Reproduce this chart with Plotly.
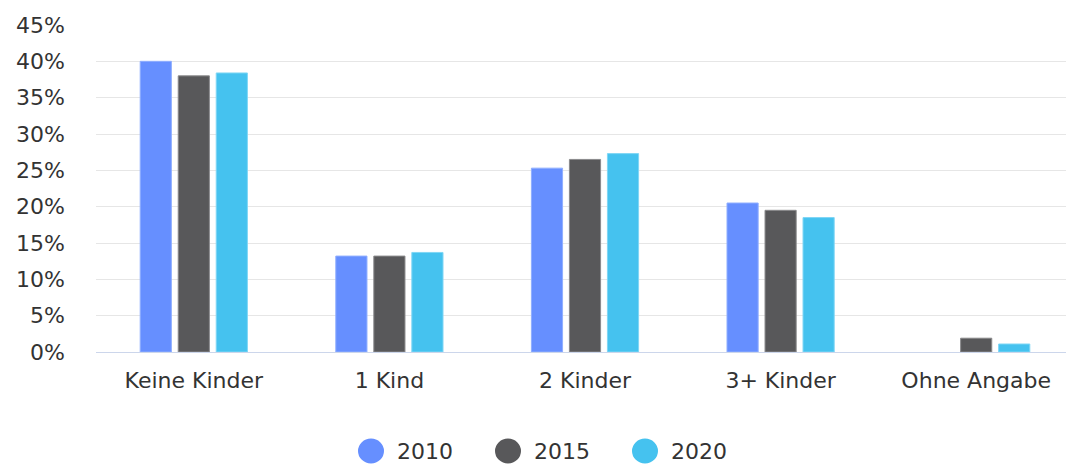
import plotly.graph_objects as go

categories = ["Keine Kinder", "1 Kind", "2 Kinder", "3+ Kinder", "Ohne Angabe"]
series_names = ["2010", "2015", "2020"]
values_2010 = [40.0, 13.2, 25.3, 20.5, None]
values_2015 = [38.0, 13.2, 26.5, 19.5, 1.9]
values_2020 = [38.4, 13.7, 27.3, 18.5, 1.1]
y_ticks = [0, 5, 10, 15, 20, 25, 30, 35, 40, 45]
y_tick_labels = [f"{v}%" for v in y_ticks]

colors = ["#668FFF", "#58585A", "#45C2EF"]
edge = ["#8FAEFF", "#8A8A8C", "#7FD6F5"]

# page body has an 8px margin: size the figure so the plot lands where the reference has it
OFF = 8
W, H = 1074 - OFF, 464 - OFF
ML, MR, MT, MB = 96 - OFF, 0, 25 - OFF, 112
PW, PH = W - ML - MR, H - MT - MB
FONT = "DejaVu Sans"
TXT = "#333333"

fig = go.Figure()
for name, vals, c, e in zip(series_names, [values_2010, values_2015, values_2020], colors, edge):
    fig.add_trace(go.Bar(x=categories, y=vals, name=name,
                         marker=dict(color=c, line=dict(color=e, width=1)),
                         showlegend=False))

# custom legend (large circles) drawn in paper coordinates (window pixel positions)
legend_centers_px = [371, 508, 645]
legend_y_px = 451
shapes, annotations = [], []
for name, c, cx in zip(series_names, colors, legend_centers_px):
    xp = (cx - OFF - ML) / PW
    yp = (H - MB - (legend_y_px - OFF)) / PH
    shapes.append(dict(type="circle", xref="paper", yref="paper",
                       xsizemode="pixel", ysizemode="pixel",
                       xanchor=xp, yanchor=yp, x0=-13, x1=13, y0=-12.5, y1=12.5,
                       fillcolor=c, line=dict(width=0)))
    annotations.append(dict(text=name, xref="paper", yref="paper",
                            x=(cx + 24 - OFF - ML) / PW, y=yp, xanchor="left", yanchor="middle",
                            showarrow=False, font=dict(family=FONT, size=22, color=TXT)))

fig.update_layout(
    width=W, height=H,
    margin=dict(l=ML, r=MR, t=MT, b=MB),
    plot_bgcolor="white", paper_bgcolor="white",
    barmode="group", bargap=0.417, bargroupgap=0.18,
    font=dict(family=FONT, color=TXT),
    showlegend=False,
    shapes=shapes, annotations=annotations,
    xaxis=dict(showgrid=False, tickfont=dict(family=FONT, size=22, color=TXT), ticks="",
               showline=True, linecolor="#ccd6eb", linewidth=1, ticklabelstandoff=9,
               automargin=False),
    yaxis=dict(range=[0, 45], tickvals=y_ticks, ticktext=y_tick_labels,
               showgrid=True, gridcolor="#e6e6e6", gridwidth=1, zeroline=False,
               tickfont=dict(family=FONT, size=22, color=TXT), ticklabelstandoff=30,
               automargin=False),
)

fig.write_html("out.html")
